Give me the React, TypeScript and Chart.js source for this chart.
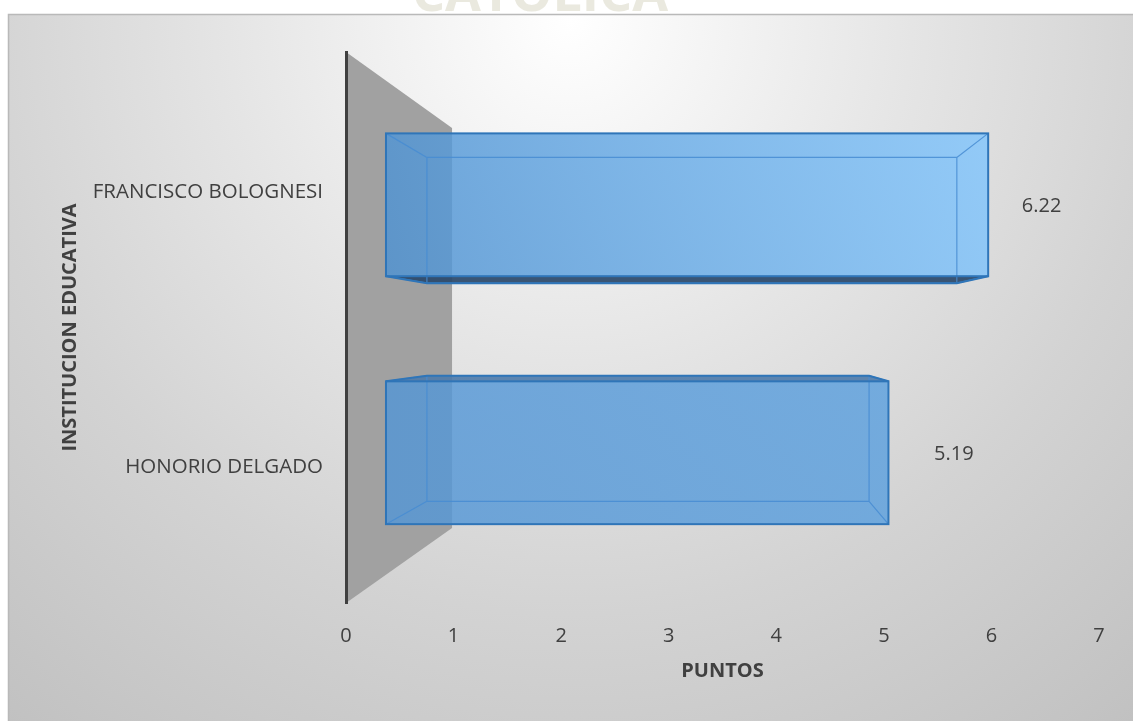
import React, { useEffect, useRef } from 'react';
import { Chart, registerables } from 'chart.js';

Chart.register(...registerables);

// ---- data ----
const categories = ['FRANCISCO BOLOGNESI', 'HONORIO DELGADO'];
const puntos = [6.22, 5.19];
const xTickValues = [0, 1, 2, 3, 4, 5, 6, 7];
const xAxisTitle = 'PUNTOS';
const yAxisTitle = 'INSTITUCION EDUCATIVA';
const watermarkText = 'CATÓLICA';

// ---- styles ----
const FONT = "'Open Sans', sans-serif";
const TEXT = '#404040';
const barStyles = [
  { gradient: true, c0: 'rgba(78,146,210,0.82)', c1: 'rgba(132,198,252,0.84)', outer: 'rgba(42,72,105,0.92)' },
  { gradient: false, c0: 'rgba(84,150,213,0.82)', c1: 'rgba(92,160,222,0.82)', outer: 'rgba(78,122,170,0.9)' },
];

const bgPlugin = {
  id: 'bgWall',
  beforeDraw(chart: any) {
    const { ctx, width, height, chartArea: ca } = chart;
    ctx.save();
    ctx.fillStyle = '#ffffff';
    ctx.fillRect(0, 0, width, height);
    // faint watermark cut off at top
    ctx.save();
    ctx.beginPath();
    ctx.rect(0, 0, width, 14);
    ctx.clip();
    ctx.font = `bold 52px ${FONT}`;
    ctx.fillStyle = 'rgba(214,211,192,0.5)';
    ctx.textAlign = 'center';
    ctx.textBaseline = 'alphabetic';
    ctx.fillText(watermarkText, 540, 11);
    ctx.restore();
    // chart box
    const bx = 8, by = 14;
    const g = ctx.createRadialGradient(570, 20, 0, 570, 20, 900);
    g.addColorStop(0, '#ffffff');
    g.addColorStop(0.38, '#e5e5e5');
    g.addColorStop(0.66, '#d3d3d3');
    g.addColorStop(1, '#c1c1c1');
    ctx.fillStyle = g;
    ctx.fillRect(bx, by, width - bx, height - by);
    ctx.strokeStyle = '#b9b9b9';
    ctx.lineWidth = 1.5;
    ctx.beginPath();
    ctx.moveTo(bx + 0.5, height);
    ctx.lineTo(bx + 0.5, by + 0.5);
    ctx.lineTo(width, by + 0.5);
    ctx.stroke();
    // 3D side wall
    const L = ca.left, T = ca.top, B = ca.bottom;
    const W = ca.right - ca.left, H = B - T;
    const vx = L + 0.514 * W, vy = T + 0.503 * H, s = 0.726;
    const farX = vx + s * (L - vx);
    const farT = vy + s * (T - vy);
    const farB = vy + s * (B - vy);
    ctx.fillStyle = '#a1a1a1';
    ctx.beginPath();
    ctx.moveTo(L, T);
    ctx.lineTo(farX, farT);
    ctx.lineTo(farX, farB);
    ctx.lineTo(L, B);
    ctx.closePath();
    ctx.fill();
    ctx.restore();
  },
};

const bars3dPlugin = {
  id: 'bars3d',
  afterDatasetsDraw(chart: any) {
    const { ctx, chartArea: ca } = chart;
    const L = ca.left, T = ca.top;
    const W = ca.right - ca.left, H = ca.bottom - ca.top;
    const v1x = L + 0.531 * W, v1y = T + 0.523 * H, s1 = 0.9;
    const v2x = L + 0.506 * W, v2y = T + 0.512 * H, s2 = 0.88;
    const fx = (x: number) => v1x + s1 * (x - v1x);
    const fy = (y: number) => v1y + s1 * (y - v1y);
    const gx = (x: number) => v2x + s2 * (fx(x) - v2x);
    const gy = (y: number) => v2y + s2 * (fy(y) - v2y);
    const meta = chart.getDatasetMeta(0);
    const values = chart.data.datasets[0].data as number[];
    meta.data.forEach((el: any, i: number) => {
      const p = el.getProps(['x', 'y', 'base', 'height'], true);
      const st = barStyles[i % barStyles.length];
      const top = p.y - p.height / 2, bot = p.y + p.height / 2;
      const fl = fx(p.base), fr = fx(p.x), ft = fy(top), fb = fy(bot);
      const bl = gx(p.base), br = gx(p.x), bt = gy(top), bb = gy(bot);
      ctx.save();
      const quad = (pts: number[][]) => {
        ctx.beginPath();
        ctx.moveTo(pts[0][0], pts[0][1]);
        for (let k = 1; k < pts.length; k++) ctx.lineTo(pts[k][0], pts[k][1]);
        ctx.closePath();
      };
      // outer visible faces
      ctx.fillStyle = st.outer;
      if (bb > fb) { quad([[fl, fb], [fr, fb], [br, bb], [bl, bb]]); ctx.fill(); }
      if (bt < ft) { quad([[fl, ft], [fr, ft], [br, bt], [bl, bt]]); ctx.fill(); }
      // front face
      let gr: any;
      if (st.gradient) {
        gr = ctx.createLinearGradient(fl, fb, fr, ft);
      } else {
        gr = ctx.createLinearGradient(fl, 0, fr, 0);
      }
      gr.addColorStop(0, st.c0);
      gr.addColorStop(1, st.c1);
      ctx.fillStyle = gr;
      ctx.fillRect(fl, ft, fr - fl, fb - ft);
      // inner (back) edges
      ctx.strokeStyle = 'rgba(70,140,210,0.85)';
      ctx.lineWidth = 1.2;
      ctx.beginPath();
      ctx.rect(bl, bt, br - bl, bb - bt);
      ctx.moveTo(fl, ft); ctx.lineTo(bl, bt);
      ctx.moveTo(fr, ft); ctx.lineTo(br, bt);
      ctx.moveTo(fl, fb); ctx.lineTo(bl, bb);
      ctx.moveTo(fr, fb); ctx.lineTo(br, bb);
      ctx.stroke();
      // outer silhouette edges
      ctx.strokeStyle = '#2f75b8';
      ctx.lineWidth = 2;
      ctx.strokeRect(fl, ft, fr - fl, fb - ft);
      if (bb > fb) {
        ctx.beginPath();
        ctx.moveTo(fl, fb); ctx.lineTo(bl, bb); ctx.lineTo(br, bb); ctx.lineTo(fr, fb);
        ctx.stroke();
      }
      if (bt < ft) {
        ctx.beginPath();
        ctx.moveTo(fl, ft); ctx.lineTo(bl, bt); ctx.lineTo(br, bt); ctx.lineTo(fr, ft);
        ctx.stroke();
      }
      // data label
      ctx.fillStyle = TEXT;
      ctx.font = `20px ${FONT}`;
      ctx.textAlign = 'left';
      ctx.textBaseline = 'middle';
      ctx.fillText(Number(values[i]).toFixed(2), br + 65, (ft + fb) / 2 + 2);
      ctx.restore();
    });
  },
};

export default function App() {
  const ref = useRef<HTMLCanvasElement | null>(null);
  useEffect(() => {
    if (!ref.current) return;
    const chart = new Chart(ref.current, {
      type: 'bar',
      data: {
        labels: categories,
        datasets: [
          {
            data: puntos,
            backgroundColor: 'rgba(0,0,0,0)',
            borderWidth: 0,
            categoryPercentage: 0.72,
            barPercentage: 0.8,
          },
        ],
      },
      options: {
        indexAxis: 'y',
        responsive: false,
        animation: false,
        events: [],
        layout: { padding: { left: 0, top: 52, right: 34, bottom: 0 } },
        plugins: {
          legend: { display: false },
          tooltip: { enabled: false },
        },
        scales: {
          x: {
            type: 'linear',
            min: 0,
            max: 7,
            afterBuildTicks: (s: any) => {
              s.ticks = xTickValues.map((v) => ({ value: v }));
            },
            ticks: { stepSize: 1, padding: 21, color: TEXT, font: { family: FONT, size: 20 } },
            grid: { display: false, drawTicks: false },
            border: { display: false },
            title: {
              display: true,
              text: xAxisTitle,
              color: TEXT,
              font: { family: FONT, size: 20, weight: 'bold' },
              padding: { top: 0, bottom: 38 },
            },
            afterFit: (s: any) => {
              s.height = 118;
            },
          },
          y: {
            ticks: { padding: 23, labelOffset: 2, color: TEXT, font: { family: FONT, size: 20.5 } },
            grid: { display: false, drawTicks: false },
            border: { display: true, color: '#404040', width: 3 },
            title: {
              display: true,
              text: yAxisTitle,
              color: TEXT,
              font: { family: FONT, size: 20, weight: 'bold' },
              padding: { top: 58, bottom: 0 },
            },
            afterFit: (s: any) => {
              s.width = 346;
            },
          },
        },
      } as any,
      plugins: [bgPlugin, bars3dPlugin],
    });
    return () => chart.destroy();
  }, []);
  return (
    <div style={{ position: 'fixed', left: 0, top: 0, width: 1133, height: 721 }}>
      <canvas ref={ref} width={1133} height={721} style={{ display: 'block' }} />
    </div>
  );
}
